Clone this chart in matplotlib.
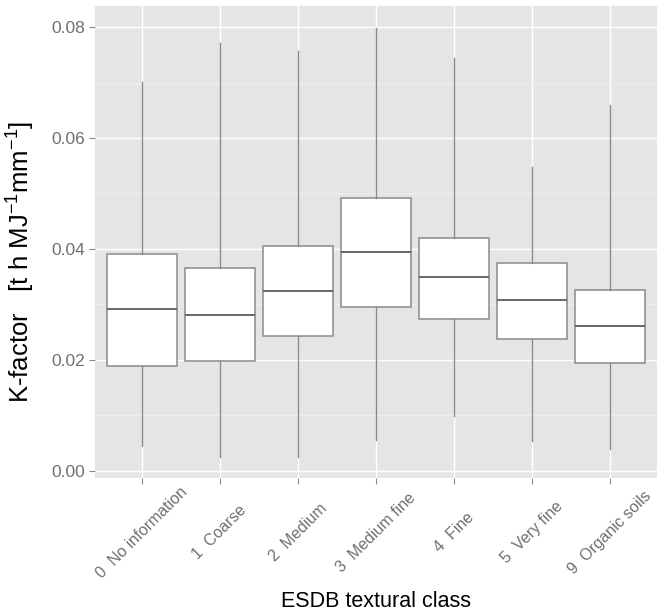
import matplotlib
matplotlib.use("Agg")
import matplotlib.pyplot as plt
from matplotlib.ticker import MultipleLocator

plt.rcParams["font.family"] = ["Liberation Sans", "DejaVu Sans"]
plt.rcParams["mathtext.fontset"] = "custom"
plt.rcParams["mathtext.rm"] = "Liberation Sans"
plt.rcParams["mathtext.it"] = "Liberation Sans:italic"
plt.rcParams["mathtext.bf"] = "Liberation Sans:bold"

categories = ["0  No information", "1  Coarse", "2  Medium", "3  Medium fine",
              "4  Fine", "5  Very fine", "9  Organic soils"]
whisker_low = [0.0044, 0.0025, 0.0024, 0.0055, 0.0099, 0.0054, 0.0039]
q1 = [0.0189, 0.0198, 0.0243, 0.0296, 0.0274, 0.0237, 0.0195]
median = [0.0291, 0.0281, 0.0324, 0.0394, 0.0349, 0.0307, 0.0261]
q3 = [0.0391, 0.0365, 0.0405, 0.0492, 0.0420, 0.0375, 0.0325]
whisker_high = [0.0701, 0.0772, 0.0757, 0.0798, 0.0744, 0.0547, 0.0660]
y_ticks = [0.00, 0.02, 0.04, 0.06, 0.08]

W, H = 662, 611
fig = plt.figure(figsize=(W / 100, H / 100), dpi=100)
ax_l, ax_r, ax_t, ax_b = 95, 656.7, 6, 478.3
ax = fig.add_axes([ax_l / W, (H - ax_b) / H, (ax_r - ax_l) / W, (ax_b - ax_t) / H])
ax.set_facecolor("#e5e5e5")

stats = []
for i, c in enumerate(categories):
    stats.append(dict(label=c, med=median[i], q1=q1[i], q3=q3[i],
                      whislo=whisker_low[i], whishi=whisker_high[i], fliers=[]))

positions = list(range(1, len(categories) + 1))
ax.bxp(stats, positions=positions, widths=0.9, patch_artist=True, showcaps=False,
       showfliers=False,
       boxprops=dict(facecolor="white", edgecolor="#8a8a8a", linewidth=1.1),
       medianprops=dict(color="#5a5a5a", linewidth=1.3),
       whiskerprops=dict(color="#8a8a8a", linewidth=1.0), zorder=3)

ax.set_xlim(0.4, 7.6)
ax.set_ylim(-0.00137, 0.0838)
ax.set_yticks(y_ticks)
ax.set_yticklabels([f"{v:.2f}" for v in y_ticks])
ax.yaxis.set_minor_locator(MultipleLocator(0.01))
ax.set_xticks(positions)
ax.set_xticklabels(categories, rotation=45, ha="center", va="center",
                   rotation_mode="anchor")

ax.grid(True, which="major", color="white", linewidth=1.0, zorder=0)
ax.grid(True, which="minor", axis="y", color="#f2f2f2", linewidth=0.5, zorder=0)
ax.set_axisbelow(True)
for s in ax.spines.values():
    s.set_visible(False)

ax.tick_params(axis="y", which="major", labelsize=12.5, labelcolor="#707070",
               color="#8a8a8a", length=4, pad=3)
ax.tick_params(axis="x", which="major", labelsize=11.5, labelcolor="#707070",
               color="#8a8a8a", length=4, pad=35)
ax.tick_params(which="minor", length=0)

ax.set_ylabel(r"K-factor   [t h MJ$^{-1}$mm$^{-1}$]", fontsize=18.5, color="black")
ax.yaxis.set_label_coords((37 - ax_l) / (ax_r - ax_l), (ax_b - 262) / (ax_b - ax_t))
ax.set_xlabel("ESDB textural class", fontsize=15.5, color="black")
ax.xaxis.set_label_coords(0.5, (ax_b - 591) / (ax_b - ax_t))

fig.savefig("out.png", dpi=100)
